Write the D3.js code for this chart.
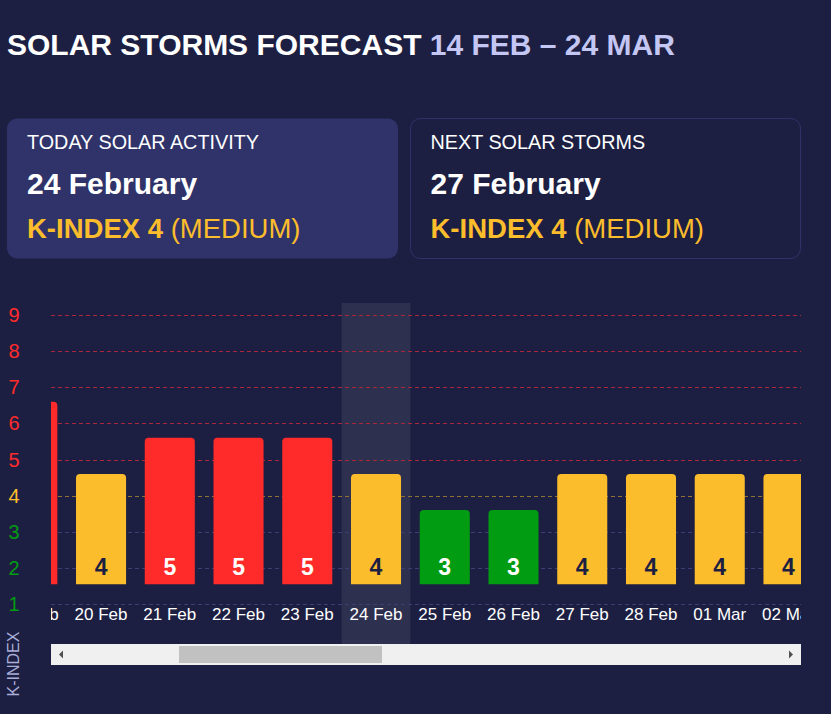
<!DOCTYPE html>
<html>
<head>
<meta charset="utf-8">
<script src="https://cdn.jsdelivr.net/npm/d3@7"></script>
<style>
body{margin:0;background:#1d1f42;}
svg{display:block;font-family:"Liberation Sans",Arial,sans-serif;}
</style>
</head>
<body>
<svg id="chart"></svg>
<script>
var w=831;
var h=714;
// data
var dates=["19 Feb","20 Feb","21 Feb","22 Feb","23 Feb","24 Feb","25 Feb","26 Feb","27 Feb","28 Feb","01 Mar","02 Mar"];
var kIndex=[6,4,5,5,5,4,3,3,4,4,4,4];
var yTicks=[1,2,3,4,5,6,7,8,9];
var today="24 Feb";
var titleMain="SOLAR STORMS FORECAST";
var titleRange="14 FEB \u2013 24 MAR";
var cards=[
  {label:"TODAY SOLAR ACTIVITY",date:"24 February",k:4,level:"(MEDIUM)"},
  {label:"NEXT SOLAR STORMS",date:"27 February",k:4,level:"(MEDIUM)"}
];

var red="#ff2b2b",yellow="#fcbd2c",green="#029c12",navy="#1d1f42";
function kColor(v){return v>=5?red:(v==4?yellow:green);}
function gridColor(v){return v>=5?"#a8273b":(v==4?"#8f7134":"#3b3f74");}

var plot={left:51,right:801,top:303,base:644};

var svg=d3.select("#chart").attr("width",w).attr("height",h);

// title
var title=svg.append("text").attr("x",7).attr("y",55)
   .attr("font-size",30).attr("font-weight","bold");
title.append("tspan").attr("fill","#fff").text(titleMain+" ");
title.append("tspan").attr("fill","#c4c7f3").text(titleRange);

// cards
var cardX=[7,410.5];
var cardW=[391,390];
cards.forEach(function(c,i){
  var g=svg.append("g").attr("transform","translate("+cardX[i]+",118.5)");
  g.append("rect").attr("width",cardW[i]).attr("height",140).attr("rx",10)
   .attr("fill",i==0?"#2f3369":"none")
   .attr("stroke",i==0?"none":"#2f3369").attr("stroke-width",1);
  g.append("text").attr("x",20).attr("y",30.5).attr("font-size",19.8)
   .attr("fill","#fff").text(c.label);
  g.append("text").attr("x",20).attr("y",75).attr("font-size",30)
   .attr("font-weight","bold").attr("fill","#fff").text(c.date);
  var t=g.append("text").attr("x",20).attr("y",119.5).attr("font-size",27.5).attr("fill",kColor(c.k));
  t.append("tspan").attr("font-weight","bold").text("K-INDEX "+c.k+" ");
  t.append("tspan").text(c.level);
});

// scales
var step=(plot.right-plot.left)/(dates.length-1.09);
var xScale=d3.scaleBand()
   .domain(dates)
   .range([32.3-step/2,32.3-step/2+step*dates.length])
   .paddingInner(0.272)
   .paddingOuter(0.136);
var yScale=d3.scaleLinear().domain([1,9]).range([604,315]);

svg.append("defs").append("clipPath").attr("id","clip")
   .append("rect").attr("x",plot.left).attr("y",0)
   .attr("width",plot.right-plot.left).attr("height",h);

// y labels
svg.append("g").selectAll("text")
   .data(yTicks).enter().append("text")
   .attr("x",14).attr("y",function(d){return yScale(d)+7;})
   .attr("text-anchor","middle").attr("font-size",20)
   .attr("fill",kColor).text(function(d){return d;});

svg.append("text")
   .attr("transform","translate(19,664) rotate(-90)")
   .attr("text-anchor","middle").attr("font-size",16)
   .attr("fill","#a9add8").text("K-INDEX");

var area=svg.append("g").attr("clip-path","url(#clip)");

// today highlight
area.append("rect")
   .attr("x",xScale(today)-xScale.step()*xScale.paddingInner()/2)
   .attr("y",plot.top)
   .attr("width",xScale.step())
   .attr("height",plot.base-plot.top)
   .attr("fill","rgba(255,255,255,0.08)");

// grid
area.append("g").selectAll("line")
   .data(yTicks).enter().append("line")
   .attr("x1",plot.left).attr("x2",plot.right)
   .attr("y1",function(d){return Math.round(yScale(d))+0.5;})
   .attr("y2",function(d){return Math.round(yScale(d))+0.5;})
   .attr("stroke",function(d){return gridColor(d);})
   .attr("stroke-dasharray","4,3");

// bars with rounded top
var r=4;
var bars=dates.map(function(d,i){return {date:d,k:kIndex[i]};});
var y0=yScale(1.55);
area.append("g").selectAll("path")
   .data(bars).enter().append("path")
   .attr("d",function(d){
      var x0=xScale(d.date),x1=x0+xScale.bandwidth(),yt=yScale(d.k+0.6);
      return "M"+x0+","+y0+"V"+(yt+r)+"Q"+x0+","+yt+" "+(x0+r)+","+yt+
             "H"+(x1-r)+"Q"+x1+","+yt+" "+x1+","+(yt+r)+"V"+y0+"Z";
   })
   .attr("fill",function(d){return kColor(d.k);});

area.append("g").selectAll("text")
   .data(bars).enter().append("text")
   .attr("x",function(d){return xScale(d.date)+xScale.bandwidth()/2;})
   .attr("y",574.5)
   .attr("text-anchor","middle").attr("font-size",23).attr("font-weight","bold")
   .attr("fill",function(d){return d.k==4?navy:"#fff";})
   .text(function(d){return d.k;});

// x labels
area.append("g").selectAll("text")
   .data(dates).enter().append("text")
   .attr("x",function(d){return xScale(d)+xScale.bandwidth()/2;})
   .attr("y",620)
   .attr("text-anchor","middle").attr("font-size",17)
   .attr("fill","#fff").text(function(d){return d;});

// scrollbar
var sb=svg.append("g");
sb.append("rect").attr("x",plot.left).attr("y",plot.base)
   .attr("width",plot.right-plot.left).attr("height",21).attr("fill","#f0f0f0");
sb.append("rect").attr("x",179).attr("y",plot.base+2)
   .attr("width",203).attr("height",17).attr("fill","#c1c1c1");
sb.append("path").attr("d","M59,654.5L63,650.5V658.5Z").attr("fill","#505050");
sb.append("path").attr("d","M793,654.5L789,650.5V658.5Z").attr("fill","#505050");
</script>
</body>
</html>
